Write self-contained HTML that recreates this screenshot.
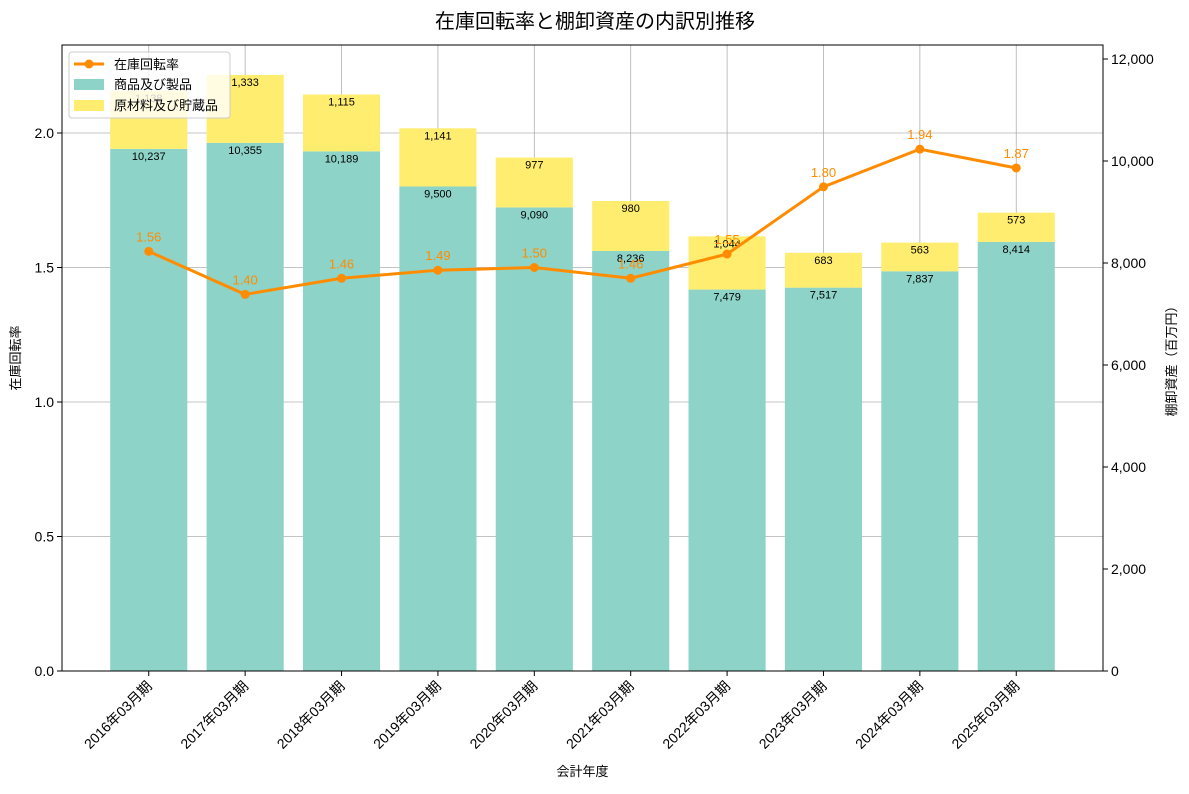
<!DOCTYPE html>
<html><head><meta charset="utf-8"><style>
body{margin:0;background:#fff;font-family:"Liberation Sans","Noto Sans CJK JP",sans-serif}
svg text{font-family:"Liberation Sans","Noto Sans CJK JP",sans-serif}
</style></head><body>
<svg id="c" width="1189" height="789" xmlns="http://www.w3.org/2000/svg">
<text x="595" y="28" text-anchor="middle" font-size="20">在庫回転率と棚卸資産の内訳別推移</text>
<g id="grid"></g><g id="bars"></g><g id="line"></g><g id="axes"></g>
<g>
<rect x="69" y="52" width="161" height="66" rx="3" fill="#fff" fill-opacity="0.8" stroke="#ccc"/>
<line x1="74" y1="64" x2="104" y2="64" stroke="#ff8c00" stroke-width="3"/><circle cx="89" cy="64" r="4.5" fill="#ff8c00"/>
<text x="114" y="69" font-size="13">在庫回転率</text>
<rect x="74" y="79" width="30" height="11" fill="#8dd3c7"/><text x="114" y="89" font-size="13">商品及び製品</text>
<rect x="74" y="100" width="30" height="11" fill="#ffed6f"/><text x="114" y="110" font-size="13">原材料及び貯蔵品</text>
</g>
</svg>
<script>
const categories=["2016年03月期","2017年03月期","2018年03月期","2019年03月期","2020年03月期","2021年03月期","2022年03月期","2023年03月期","2024年03月期","2025年03月期"];
const goods=[10237,10355,10189,9500,9090,8236,7479,7517,7837,8414];
const materials=[1138,1333,1115,1141,977,980,1044,683,563,573];
const turnover=[1.56,1.40,1.46,1.49,1.50,1.46,1.55,1.80,1.94,1.87];
const leftTicks=[0,0.5,1.0,1.5,2.0];
const rightTicks=[0,2000,4000,6000,8000,10000,12000];
const L=62,R=1103,T=45,B=671;
const yL=v=>B-v*269, yR=v=>B-v*0.051;
const step=(R-L)/10.8, x=i=>L+step*(0.9+i);
const bw=step*0.8;
const NS="http://www.w3.org/2000/svg";
function mk(p,t,a,txt){const e=document.createElementNS(NS,t);for(const k in a)e.setAttribute(k,a[k]);if(txt!=null)e.textContent=txt;document.getElementById(p).appendChild(e);return e;}
const fmt=v=>v.toLocaleString('en-US');
leftTicks.forEach(v=>{const g=mk('grid','line',{x1:L,x2:R,y1:yL(v),y2:yL(v),stroke:'#b0b0b0','stroke-width':0.8});

const t=mk('axes','text',{x:L-8,y:yL(v)+5,'text-anchor':'end','font-size':14},v.toFixed(1));

mk('axes','line',{x1:L-5,x2:L,y1:yL(v),y2:yL(v),stroke:'#000'});});
rightTicks.forEach(v=>{const t=mk('axes','text',{x:R+8,y:yR(v)+5,'font-size':14},fmt(v));

mk('axes','line',{x1:R,x2:R+5,y1:yR(v),y2:yR(v),stroke:'#000'});});
categories.forEach((c,i)=>{
const g=mk('grid','line',{x1:x(i),x2:x(i),y1:T,y2:B,stroke:'#b0b0b0','stroke-width':0.8});

const b1=mk('bars','rect',{x:x(i)-bw/2,y:yR(goods[i]),width:bw,height:B-yR(goods[i]),fill:'#8dd3c7'});

const top=goods[i]+materials[i];
const b2=mk('bars','rect',{x:x(i)-bw/2,y:yR(top),width:bw,height:yR(goods[i])-yR(top),fill:'#ffed6f'});

const t1=mk('bars','text',{x:x(i),y:yR(goods[i])+11,'text-anchor':'middle','font-size':11},fmt(goods[i]));

const t2=mk('bars','text',{x:x(i),y:yR(top)+11,'text-anchor':'middle','font-size':11},fmt(materials[i]));

mk('axes','line',{x1:x(i),x2:x(i),y1:B,y2:B+5,stroke:'#000'});
const xl=mk('axes','text',{x:x(i)+4,y:B+16,'text-anchor':'end','font-size':14,transform:`rotate(-45 ${x(i)+4} ${B+16})`},c);

});
const pl=mk('line','polyline',{points:turnover.map((v,i)=>x(i)+','+yL(v)).join(' '),fill:'none',stroke:'#ff8c00','stroke-width':3});

turnover.forEach((v,i)=>{const c=mk('line','circle',{cx:x(i),cy:yL(v),r:4.5,fill:'#ff8c00'});

const t=mk('line','text',{x:x(i),y:yL(v)-10,'text-anchor':'middle','font-size':13,fill:'#ff8c00'},v.toFixed(2));
});
const fr=mk('axes','rect',{x:L,y:T,width:R-L,height:B-T,fill:'none',stroke:'#000','stroke-width':1});

const xt=mk('axes','text',{x:(L+R)/2,y:776,'text-anchor':'middle','font-size':13},'会計年度');

const yt=mk('axes','text',{x:20,y:(T+B)/2,'text-anchor':'middle','font-size':13,transform:`rotate(-90 20 ${(T+B)/2})`},'在庫回転率');

const yt2=mk('axes','text',{x:1176,y:(T+B)/2,'text-anchor':'middle','font-size':13,transform:`rotate(-90 1176 ${(T+B)/2})`},'棚卸資産（百万円）');

</script>
</body></html>
